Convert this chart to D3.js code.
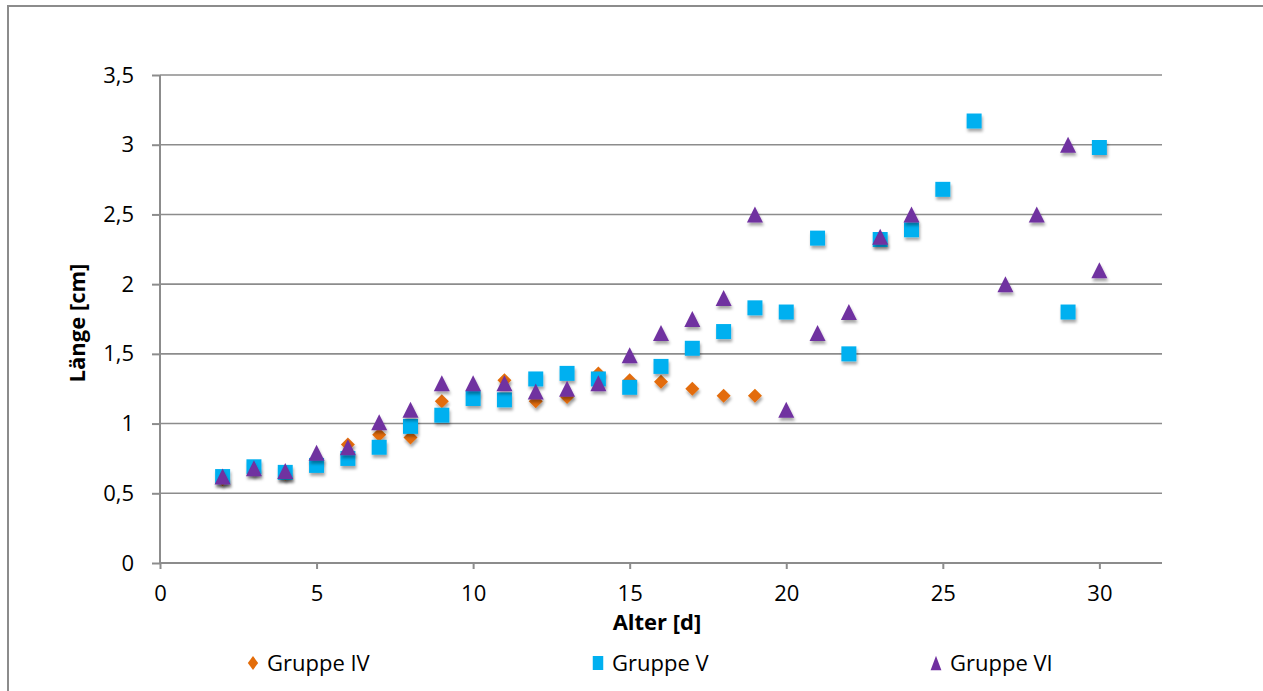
<!DOCTYPE html>
<html>
<head>
<meta charset="utf-8">
<script src="https://cdn.jsdelivr.net/npm/d3@7"></script>
<style>
  html, body { margin: 0; padding: 0; background: #fff; }
  svg { display: block; }
  text { font-family: "Open Sans", "Noto Sans", sans-serif; fill: #000; }
</style>
</head>
<body>
<svg id="chart" width="1263" height="691"></svg>
<script>
// Age in days and measured length in cm per group (null = no measurement)
const days = [2,3,4,5,6,7,8,9,10,11,12,13,14,15,16,17,18,19,20,21,22,23,24,25,26,27,28,29,30];
const gruppeIV = [0.60,0.67,0.64,0.72,0.85,0.92,0.90,1.16,1.21,1.31,1.16,1.19,1.36,1.31,1.30,1.25,1.20,1.20,
                  null,null,null,null,null,null,null,null,null,null,null];
const gruppeV  = [0.62,0.69,0.65,0.70,0.75,0.83,0.98,1.06,1.18,1.17,1.32,1.36,1.32,1.26,1.41,1.54,1.66,1.83,
                  1.80,2.33,1.50,2.32,2.39,2.68,3.17,null,null,1.80,2.98];
const gruppeVI = [0.62,0.68,0.66,0.79,0.83,1.01,1.10,1.29,1.29,1.29,1.23,1.25,1.29,1.49,1.65,1.75,1.90,2.50,
                  1.10,1.65,1.80,2.34,2.50,null,null,2.00,2.50,3.00,2.10];
const seriesNames = ["Gruppe IV", "Gruppe V", "Gruppe VI"];
const xTicks = [0,5,10,15,20,25,30];
const yTicks = [0,0.5,1,1.5,2,2.5,3,3.5];

const colors = ["#E36C09", "#00B0F0", "#7030A0"];
const FONT = 22;

// marker shapes: diamond, square, triangle
const diamond = { draw(ctx, size) { const r = Math.sqrt(size) / 2;
  ctx.moveTo(0, -r); ctx.lineTo(r, 0); ctx.lineTo(0, r); ctx.lineTo(-r, 0); ctx.closePath(); } };
const square = { draw(ctx, size) { const r = Math.sqrt(size) / 2;
  ctx.rect(-r, -r, 2 * r, 2 * r); } };
const triangle = { draw(ctx, size) { const r = Math.sqrt(size) / 2;
  ctx.moveTo(0, -r); ctx.lineTo(r, r); ctx.lineTo(-r, r); ctx.closePath(); } };
const shapes = [diamond, square, triangle];
const sizes = [196, 225, 256];

const svg = d3.select("#chart");

// shadow under the markers
const defs = svg.append("defs");
const f = defs.append("filter").attr("id", "shadow")
  .attr("x", "-50%").attr("y", "-50%").attr("width", "200%").attr("height", "200%");
f.append("feDropShadow").attr("dx", 1).attr("dy", 3).attr("stdDeviation", 1.6)
  .attr("flood-color", "#000").attr("flood-opacity", 0.35);

// outer chart frame
svg.append("rect").attr("x", 8).attr("y", 6).attr("width", 1270).attr("height", 700)
  .attr("fill", "none").attr("stroke", "#8c8c8c").attr("stroke-width", 2);

const plot = { left: 160, right: 1162, top: 75, bottom: 563 };
const x = d3.scaleLinear().domain([0, 32]).range([plot.left, plot.right]);
const y = d3.scaleLinear().domain([0, 3.5]).range([plot.bottom, plot.top]);

// horizontal gridlines
svg.append("g").selectAll("line").data(yTicks.filter(d => d > 0)).join("line")
  .attr("x1", plot.left).attr("x2", plot.right)
  .attr("y1", d => y(d)).attr("y2", d => y(d))
  .attr("stroke", "#8c8c8c").attr("stroke-width", 1.6);

const fmt = d => String(d).replace(".", ",");

// y axis
const yAxis = svg.append("g").attr("transform", `translate(${plot.left},0)`)
  .call(d3.axisLeft(y).tickValues(yTicks).tickFormat(fmt).tickSize(8).tickPadding(18));
// x axis
const xAxis = svg.append("g").attr("transform", `translate(0,${plot.bottom})`)
  .call(d3.axisBottom(x).tickValues(xTicks).tickFormat(fmt).tickSize(6).tickPadding(16));

[yAxis, xAxis].forEach(g => {
  g.select(".domain").attr("stroke", "#8c8c8c").attr("stroke-width", 2);
  g.selectAll(".tick line").attr("stroke", "#8c8c8c").attr("stroke-width", 2);
  g.selectAll(".tick text").attr("font-size", FONT)
    .attr("font-family", "'Open Sans', sans-serif").attr("fill", "#000");
});
xAxis.select(".domain").attr("d", `M${plot.left},0H${plot.right}`);
yAxis.select(".domain").attr("d", `M0,${plot.top}V${plot.bottom}`);

// axis titles
svg.append("text").attr("x", 657).attr("y", 630).attr("text-anchor", "middle")
  .attr("font-size", FONT).attr("font-weight", "bold").text("Alter [d]");
svg.append("text").attr("transform", "translate(85,323) rotate(-90)")
  .attr("text-anchor", "middle").attr("font-size", FONT).attr("font-weight", "bold").text("Länge [cm]");

// markers
const allSeries = [gruppeIV, gruppeV, gruppeVI];
allSeries.forEach((vals, i) => {
  const pts = days.map((d, j) => ({ d, v: vals[j] })).filter(p => p.v !== null);
  svg.append("g").attr("filter", "url(#shadow)")
    .selectAll("path").data(pts).join("path")
    .attr("transform", p => `translate(${x(p.d)},${y(p.v)})`)
    .attr("d", d3.symbol().type(shapes[i]).size(sizes[i]))
    .attr("fill", colors[i]);
});

// legend
const legendX = [253, 598, 936];
const legend = svg.append("g");
seriesNames.forEach((name, i) => {
  const g = legend.append("g").attr("transform", `translate(${legendX[i]},663)`);
  g.append("path").attr("d", d3.symbol().type(shapes[i]).size([190, 196, 210][i]))
    .attr("transform", "scale(0.75,1)")
    .attr("fill", colors[i]);
  g.append("text").attr("x", 14).attr("y", 8).attr("font-size", FONT).text(name);
});
</script>
</body>
</html>
